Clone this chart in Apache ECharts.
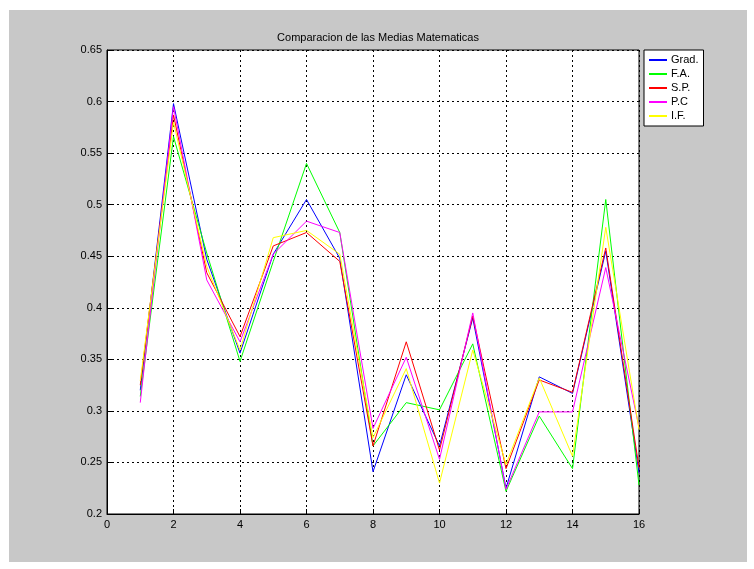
<!DOCTYPE html>
<html>
<head>
<meta charset="utf-8">
<script src="https://cdn.jsdelivr.net/npm/echarts@6/dist/echarts.min.js"></script>
<style>
html,body{margin:0;padding:0;background:#ffffff;}
#chart{width:754px;height:569px;}
</style>
</head>
<body>
<div id="chart"></div>
<script>
var xValues = [1,2,3,4,5,6,7,8,9,10,11,12,13,14,15,16];
var seriesNames = ['Grad.', 'F.A.', 'S.P.', 'P.C', 'I.F.'];
var grad = [0.320, 0.598, 0.447, 0.356, 0.452, 0.505, 0.448, 0.241, 0.335, 0.266, 0.390, 0.225, 0.333, 0.317, 0.455, 0.240];
var fa   = [0.314, 0.566, 0.453, 0.348, 0.445, 0.540, 0.473, 0.266, 0.308, 0.301, 0.365, 0.222, 0.295, 0.244, 0.505, 0.228];
var sp   = [0.325, 0.587, 0.434, 0.372, 0.460, 0.473, 0.445, 0.266, 0.367, 0.262, 0.392, 0.244, 0.330, 0.318, 0.458, 0.245];
var pc   = [0.308, 0.595, 0.427, 0.367, 0.452, 0.484, 0.473, 0.283, 0.352, 0.253, 0.395, 0.224, 0.299, 0.299, 0.439, 0.284];
var inf  = [0.329, 0.580, 0.440, 0.359, 0.468, 0.475, 0.452, 0.274, 0.341, 0.230, 0.359, 0.248, 0.332, 0.256, 0.478, 0.282];
var colors = ['#0000ff', '#00ff00', '#ff0000', '#ff00ff', '#ffff00'];
var allData = [grad, fa, sp, pc, inf];

var font = '"Liberation Sans Narrow", "Liberation Sans", Arial, sans-serif';
var chart = echarts.init(document.getElementById('chart'), null, {renderer: 'canvas'});

function pairs(arr) {
  return arr.map(function (v, i) { return [xValues[i], v]; });
}

var series = seriesNames.map(function (name, k) {
  return {
    name: name,
    type: 'line',
    data: pairs(allData[k]),
    symbol: 'none',
    lineStyle: {color: colors[k], width: 1},
    itemStyle: {color: colors[k]},
    emphasis: {disabled: true},
    animation: false,
    z: 3
  };
});

chart.setOption({
  animation: false,
  backgroundColor: '#ffffff',
  graphic: [{
    type: 'rect',
    z: -10,
    silent: true,
    shape: {x: 9, y: 10, width: 738, height: 552},
    style: {fill: '#c8c8c8'}
  }],
  title: {
    text: 'Comparacion de las Medias Matematicas',
    left: 373,
    textAlign: 'center',
    top: 27,
    textStyle: {fontFamily: font, fontSize: 11, fontWeight: 'normal', color: '#000'}
  },
  legend: {
    orient: 'vertical',
    left: 644,
    top: 50,
    backgroundColor: '#ffffff',
    borderColor: '#000000',
    borderWidth: 1,
    borderRadius: 0,
    padding: [4, 5, 4, 5],
    itemGap: 2,
    itemWidth: 18,
    itemHeight: 2,
    icon: 'rect',
    data: seriesNames,
    textStyle: {fontFamily: font, fontSize: 11, lineHeight: 12, color: '#000', padding: [0,0,0,-1]}
  },
  grid: {
    left: 107,
    right: 115,
    top: 50,
    bottom: 55,
    show: true,
    backgroundColor: '#ffffff',
    borderColor: '#000000',
    borderWidth: 1,
    containLabel: false
  },
  xAxis: {
    type: 'value',
    min: 0,
    max: 16,
    interval: 2,
    axisLine: {show: true, onZero: false, lineStyle: {color: '#000', width: 1}},
    axisTick: {show: true, inside: true, length: 5, lineStyle: {color: '#000'}},
    axisLabel: {fontFamily: font, fontSize: 11, color: '#000', margin: 5},
    splitLine: {show: true, lineStyle: {color: '#000', type: [2, 3], width: 1}}
  },
  yAxis: {
    type: 'value',
    min: 0.2,
    max: 0.65,
    interval: 0.05,
    axisLine: {show: true, onZero: false, lineStyle: {color: '#000', width: 1}},
    axisTick: {show: true, inside: true, length: 5, lineStyle: {color: '#000'}},
    axisLabel: {
      fontFamily: font, fontSize: 11, color: '#000', margin: 5,
      formatter: function (v) { return String(parseFloat(v.toFixed(2))); }
    },
    splitLine: {show: true, lineStyle: {color: '#000', type: [2, 3], width: 1}}
  },
  series: series
});
</script>
</body>
</html>
